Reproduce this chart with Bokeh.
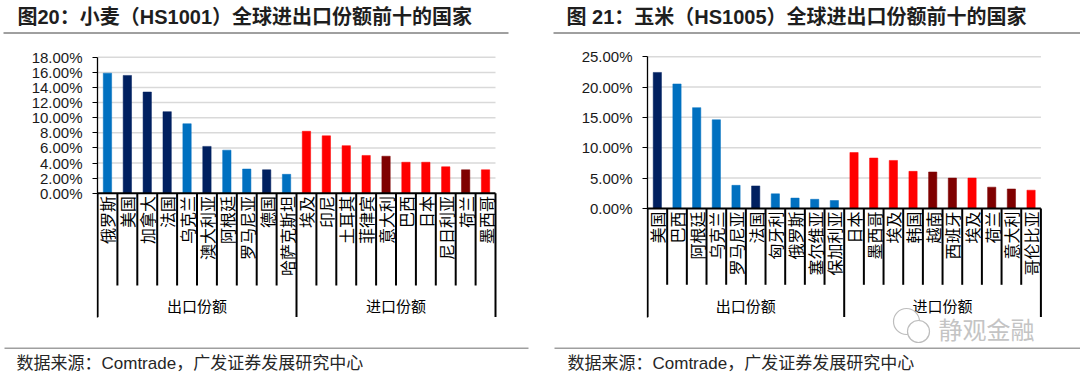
import math
from bokeh.plotting import figure
from bokeh.layouts import row, column
from bokeh.models import Range1d, FixedTicker
from bokeh.core.properties import value
from bokeh.embed import file_html
from bokeh.resources import INLINE

# ---------------- data ----------------
group_labels = ["出口份额", "进口份额"]

wheat_title = "图20：小麦（HS1001）全球进出口份额前十的国家"
wheat_export_countries = ["俄罗斯", "美国", "加拿大", "法国", "乌克兰", "澳大利亚", "阿根廷", "罗马尼亚", "德国", "哈萨克斯坦"]
wheat_export_share = [15.9, 15.6, 13.4, 10.8, 9.2, 6.2, 5.7, 3.2, 3.1, 2.5]
wheat_import_countries = ["埃及", "印尼", "土耳其", "菲律宾", "意大利", "巴西", "日本", "尼日利亚", "荷兰", "墨西哥"]
wheat_import_share = [8.2, 7.6, 6.3, 5.0, 4.9, 4.1, 4.1, 3.5, 3.1, 3.1]
wheat_ticks = [0, 2, 4, 6, 8, 10, 12, 14, 16, 18]

corn_title = "图 21：玉米（HS1005）全球进出口份额前十的国家"
corn_export_countries = ["美国", "巴西", "阿根廷", "乌克兰", "罗马尼亚", "法国", "匈牙利", "俄罗斯", "塞尔维亚", "保加利亚"]
corn_export_share = [22.4, 20.5, 16.6, 14.6, 3.8, 3.7, 2.4, 1.7, 1.5, 1.3]
corn_import_countries = ["日本", "墨西哥", "埃及", "韩国", "越南", "西班牙", "埃及", "荷兰", "意大利", "哥伦比亚"]
corn_import_share = [9.2, 8.3, 7.9, 6.1, 6.0, 5.0, 5.0, 3.5, 3.2, 3.0]
corn_ticks = [0, 5, 10, 15, 20, 25]

source_text = "数据来源：Comtrade，广发证券发展研究中心"
watermark_text = "静观金融"

# ---------------- styles ----------------
BLUE, NAVY, RED, DRED = "#0070C0", "#002060", "#FF0000", "#7F0000"
wheat_colors = [BLUE, NAVY, NAVY, NAVY, BLUE, NAVY, BLUE, BLUE, NAVY, BLUE,
                RED, RED, RED, RED, DRED, RED, RED, RED, DRED, RED]
corn_colors = [NAVY, BLUE, BLUE, BLUE, BLUE, NAVY, BLUE, BLUE, BLUE, BLUE,
               RED, RED, RED, RED, DRED, DRED, RED, DRED, DRED, RED]

CJK = "Noto Sans CJK SC"
MIX = "Liberation Sans, Noto Sans CJK SC"
TOTAL_W, TOTAL_H = 1080, 378
W = 540
HEAD_H = 40          # header band: y 0..40
FOOT_TOP = 347       # footer band: y 347..378
CH_H = FOOT_TOP - HEAD_H


def blank(width, y_top, y_bottom):
    p = figure(width=width, height=y_bottom - y_top, output_backend="svg",
               toolbar_location=None, x_range=Range1d(0, width),
               y_range=Range1d(y_bottom, y_top),
               x_axis_location=None, y_axis_location=None,
               min_border=0, min_border_left=0, min_border_right=0,
               min_border_top=0, min_border_bottom=0)
    p.outline_line_color = None
    p.grid.visible = False
    p.background_fill_color = "white"
    p.border_fill_color = "white"
    return p


def make_chart(cats, vals, colors, ticks, fig_left, axis_rx, cat_w,
               zero_ry, px_per, label_ry, short_ry, long_ry, watermark=False):
    border_left = int(round(axis_rx - fig_left))
    frame_left = fig_left + border_left
    frame_w = W - border_left

    def X(rx):
        return (rx - frame_left) / cat_w

    def Y(ry):
        return (zero_ry - ry) / px_per

    n = len(cats)
    p = figure(width=W, height=CH_H, output_backend="svg", toolbar_location=None,
               x_range=Range1d(0, frame_w / cat_w),
               y_range=Range1d(Y(FOOT_TOP), Y(HEAD_H)),
               x_axis_location=None,
               min_border_left=border_left, min_border_right=0,
               min_border_top=0, min_border_bottom=0)
    p.outline_line_color = None
    p.grid.visible = False
    p.background_fill_color = "white"
    p.border_fill_color = "white"

    ax = p.yaxis[0]
    ax.ticker = FixedTicker(ticks=ticks)
    ax.major_label_overrides = {t: f"{t:.2f}%" for t in ticks}
    ax.bounds = (Y(long_ry), max(ticks))
    ax.axis_line_color = "black"
    ax.axis_line_width = 1.3
    ax.major_tick_line_color = "black"
    ax.major_tick_out = 5
    ax.major_tick_in = 0
    ax.minor_tick_line_color = None
    ax.major_label_standoff = 10
    ax.major_label_text_font = "Liberation Sans"
    ax.major_label_text_font_size = "15px"
    ax.major_label_text_color = "#1a1a1a"

    # gridlines
    gt = [t for t in ticks if t > 0]
    p.segment(x0=[0] * len(gt), x1=[n] * len(gt), y0=gt, y1=gt,
              line_color="#d9d9d9", line_width=1.5)

    xs = [i + 0.5 for i in range(n)]
    p.vbar(x=xs, top=vals, bottom=0, width=0.42, fill_color=colors,
           line_color=colors, line_width=0.5)

    # category separators
    seps = list(range(n + 1))
    ends = [Y(long_ry) if k in (0, n // 2, n) else Y(short_ry) for k in seps]
    p.segment(x0=seps, x1=seps, y0=[0] * len(seps), y1=ends,
              line_color="black", line_width=2)
    p.segment(x0=[0], x1=[n], y0=[0], y1=[0], line_color="black", line_width=2)

    p.text(x=xs, y=[Y(label_ry)] * n, text=cats, angle=math.pi / 2,
           text_align="right", text_baseline="middle",
           text_font=value(CJK), text_font_size="16px", text_color="black")
    p.text(x=[n / 4, 3 * n / 4], y=[Y(305)] * 2, text=group_labels,
           text_align="center", text_baseline="middle",
           text_font=value(CJK), text_font_size="15px", text_color="black")

    if watermark:
        p.scatter(x=[X(906), X(918)], y=[Y(321), Y(331)], marker="circle",
                  size=[26, 22], fill_color="white", line_color="#bdbdbd",
                  line_width=1.2)
        p.text(x=[X(938)], y=[Y(328)], text=[watermark_text],
               text_align="left", text_baseline="middle",
               text_font=value(CJK), text_font_size="24px",
               text_color="#c4c4c4")
    return p


# header: titles and rule
head = blank(TOTAL_W, 0, HEAD_H)
head.text(x=[17, 566], y=[16.5, 16.5], text=[wheat_title, corn_title],
          text_align="left", text_baseline="middle", text_font=value(MIX),
          text_font_size="20px", text_font_style="bold", text_color="#1e1e1e")
head.segment(x0=[3, 553], x1=[508, 1080], y0=[32.5, 32.5], y1=[32.5, 32.5],
             line_color="#404040", line_width=1)

p1 = make_chart(wheat_export_countries + wheat_import_countries,
                wheat_export_share + wheat_import_share,
                wheat_colors, wheat_ticks,
                fig_left=0, axis_rx=97.3, cat_w=19.9, zero_ry=192.7,
                px_per=7.55, label_ry=195.5, short_ry=285, long_ry=316.5)

p2 = make_chart(corn_export_countries + corn_import_countries,
                corn_export_share + corn_import_share,
                corn_colors, corn_ticks,
                fig_left=W, axis_rx=646.7, cat_w=19.67, zero_ry=207.9,
                px_per=6.07, label_ry=211, short_ry=284.3, long_ry=316.5,
                watermark=True)

# footer: rule and source
foot = blank(TOTAL_W, FOOT_TOP, TOTAL_H)
foot.segment(x0=[4, 554], x1=[528, 1080], y0=[347.5, 347.5], y1=[347.5, 347.5],
             line_color="#404040", line_width=1)
foot.text(x=[16, 567], y=[363, 363], text=[source_text, source_text],
          text_align="left", text_baseline="middle", text_font=value(MIX),
          text_font_size="17px", text_color="#262626")

layout = column(head, row(p1, p2), foot)
open("out.html", "w").write(file_html(layout, INLINE))
